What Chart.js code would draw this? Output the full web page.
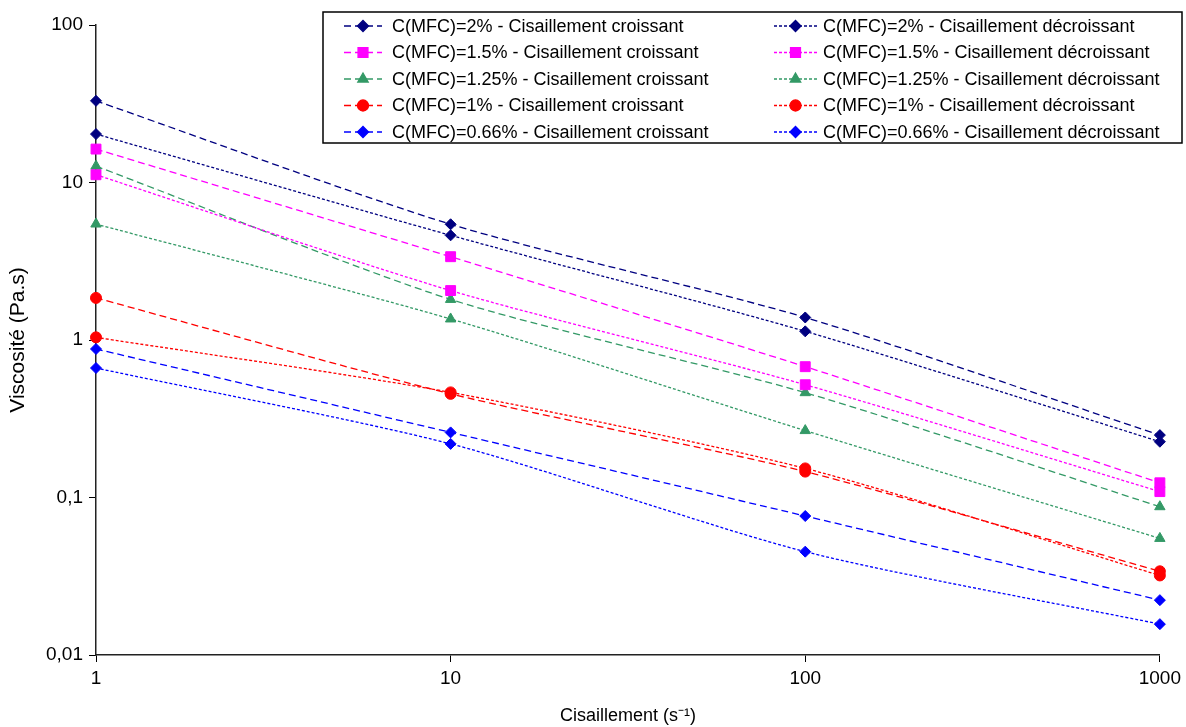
<!DOCTYPE html>
<html>
<head>
<meta charset="utf-8">
<script src="https://cdn.jsdelivr.net/npm/chart.js@4/dist/chart.umd.min.js"></script>
<style>
  html, body { margin: 0; padding: 0; background: #fff; }
  canvas { display: block; }
</style>
</head>
<body>
<canvas id="viscosite" width="1186" height="727"></canvas>
<script>
// valeurs (Pa.s)
const shearRates = [1, 10, 100, 1000];
const xTickValues = [1, 10, 100, 1000];
const yTickValues = [0.01, 0.1, 1, 10, 100];

const visc2Inc = [33, 5.43, 1.39, 0.249];
const visc2Dec = [20.3, 4.62, 1.135, 0.226];
const visc15Inc = [16.3, 3.38, 0.677, 0.124];
const visc15Dec = [11.2, 2.06, 0.52, 0.109];
const visc125Inc = [12.7, 1.81, 0.463, 0.0874];
const visc125Dec = [5.45, 1.36, 0.266, 0.055];
const visc1Inc = [1.85, 0.455, 0.146, 0.034];
const visc1Dec = [1.04, 0.465, 0.153, 0.032];
const visc066Inc = [0.877, 0.259, 0.0763, 0.0223];
const visc066Dec = [0.664, 0.219, 0.0453, 0.0157];

const FONT = '"Liberation Sans", Arial, sans-serif';
const DASH_CROISSANT = [7, 4];
const DASH_DECROISSANT = [3, 2];

function serie(label, values, color, style, radius, dash) {
  return {
    label: label,
    data: shearRates.map((x, i) => ({ x: x, y: values[i] })),
    borderColor: color,
    backgroundColor: color,
    borderWidth: 1.3,
    borderDash: dash,
    pointStyle: style,
    pointRadius: radius,
    pointHoverRadius: radius,
    pointBorderWidth: 1,
    pointBorderColor: color,
    pointBackgroundColor: color,
    tension: 0.25,
    clip: false,
    fill: false
  };
}

const datasets = [
  serie("C(MFC)=2% - Cisaillement croissant", visc2Inc, "#000080", "rectRot", 5.5, DASH_CROISSANT),
  serie("C(MFC)=2% - Cisaillement décroissant", visc2Dec, "#000080", "rectRot", 5.5, DASH_DECROISSANT),
  serie("C(MFC)=1.5% - Cisaillement croissant", visc15Inc, "#FF00FF", "rect", 7, DASH_CROISSANT),
  serie("C(MFC)=1.5% - Cisaillement décroissant", visc15Dec, "#FF00FF", "rect", 7, DASH_DECROISSANT),
  serie("C(MFC)=1.25% - Cisaillement croissant", visc125Inc, "#339966", "triangle", 6, DASH_CROISSANT),
  serie("C(MFC)=1.25% - Cisaillement décroissant", visc125Dec, "#339966", "triangle", 6, DASH_DECROISSANT),
  serie("C(MFC)=1% - Cisaillement croissant", visc1Inc, "#FF0000", "circle", 5.5, DASH_CROISSANT),
  serie("C(MFC)=1% - Cisaillement décroissant", visc1Dec, "#FF0000", "circle", 5.5, DASH_DECROISSANT),
  serie("C(MFC)=0.66% - Cisaillement croissant", visc066Inc, "#0000FF", "rectRot", 5.5, DASH_CROISSANT),
  serie("C(MFC)=0.66% - Cisaillement décroissant", visc066Dec, "#0000FF", "rectRot", 5.5, DASH_DECROISSANT)
];

// legende dans le cadre, deux colonnes comme dans Excel
const legendeCadre = {
  id: "legendeCadre",
  afterDraw(chart) {
    const ctx = chart.ctx;
    ctx.save();
    ctx.fillStyle = "#fff";
    ctx.fillRect(323, 12, 859, 131);
    ctx.strokeStyle = "#000";
    ctx.lineWidth = 1.5;
    ctx.strokeRect(323, 12, 859, 131);

    chart.data.datasets.forEach((ds, i) => {
      const col = i % 2;
      const row = Math.floor(i / 2);
      const y = 26 + row * 26.5;
      const x0 = col ? 774 : 344;
      const x1 = col ? 817 : 382;
      const xt = col ? 823 : 392;

      ctx.strokeStyle = ds.borderColor;
      ctx.lineWidth = ds.borderWidth;
      ctx.setLineDash(ds.borderDash);
      ctx.beginPath();
      ctx.moveTo(x0, y);
      ctx.lineTo(x1, y);
      ctx.stroke();
      ctx.setLineDash([]);

      ctx.fillStyle = ds.backgroundColor;
      Chart.helpers.drawPoint(ctx, {
        pointStyle: ds.pointStyle,
        radius: ds.pointRadius,
        borderWidth: 1,
        rotation: 0
      }, (x0 + x1) / 2, y);

      ctx.fillStyle = "#000";
      ctx.font = "18px " + FONT;
      ctx.textBaseline = "middle";
      ctx.textAlign = "left";
      ctx.fillText(ds.label, xt, y + 1);
    });
    ctx.restore();
  }
};

new Chart(document.getElementById("viscosite"), {
  type: "line",
  data: { datasets: datasets },
  plugins: [legendeCadre],
  options: {
    responsive: false,
    animation: false,
    layout: { padding: { left: 0, right: 26, top: 25, bottom: 0 } },
    plugins: {
      legend: { display: false },
      tooltip: { enabled: false }
    },
    scales: {
      x: {
        type: "logarithmic",
        min: 1,
        max: 1000,
        afterBuildTicks: s => { s.ticks = xTickValues.map(v => ({ value: v, major: true })); },
        afterFit: s => { s.height = 72; },
        ticks: {
          color: "#000",
          font: { family: FONT, size: 19 },
          padding: 5,
          autoSkip: false,
          maxRotation: 0,
          callback: v => String(v)
        },
        grid: { display: true, drawOnChartArea: false, drawTicks: true, tickLength: 7, color: "#000" },
        border: { display: true, color: "#222", width: 1.5 },
        title: {
          display: true,
          text: "Cisaillement (s⁻¹)",
          color: "#000",
          font: { family: FONT, size: 18 },
          padding: { top: 0, bottom: 0 }
        }
      },
      y: {
        type: "logarithmic",
        min: 0.01,
        max: 100,
        afterBuildTicks: s => { s.ticks = yTickValues.map(v => ({ value: v, major: true })); },
        afterFit: s => { s.width = 96; },
        ticks: {
          color: "#000",
          font: { family: FONT, size: 19 },
          padding: 6,
          autoSkip: false,
          callback: v => String(v).replace(".", ",")
        },
        grid: { display: true, drawOnChartArea: false, drawTicks: true, tickLength: 7, color: "#000" },
        border: { display: true, color: "#222", width: 1.5 },
        title: {
          display: true,
          text: "Viscosité (Pa.s)",
          color: "#000",
          font: { family: FONT, size: 21 },
          padding: { top: 6, bottom: 0 }
        }
      }
    }
  }
});
</script>
</body>
</html>
